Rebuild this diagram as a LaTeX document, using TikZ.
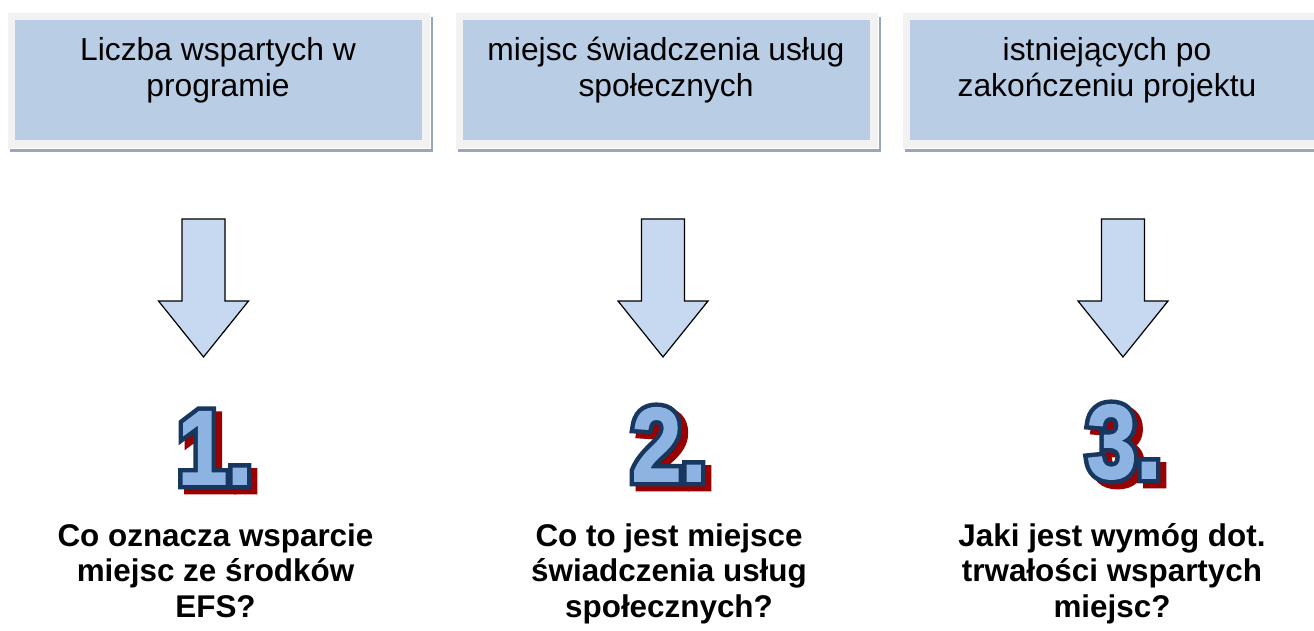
\documentclass[tikz,border=0pt]{standalone}
\usepackage{fontspec}
\setmainfont{Liberation Sans}
\newfontfamily\numfont[FakeStretch=0.85,FakeBold=1.5]{Liberation Sans}
\newfontfamily\numfontol[FakeStretch=0.85,FakeBold=10]{Liberation Sans}
\definecolor{boxframe}{HTML}{F2F2F2}
\definecolor{boxblue}{HTML}{B9CDE5}
\definecolor{boxshadow}{HTML}{98A7BB}
\definecolor{arrowfill}{HTML}{C6D9F1}
\definecolor{numfill}{HTML}{8DB3E2}
\definecolor{numblue}{HTML}{17375E}
\definecolor{numred}{HTML}{990000}
\newcommand\fancynum[1]{%
  \rlap{\kern6pt\raisebox{-5pt}{\numfontol\bfseries\textcolor{numred}{#1}}}%
  \rlap{\numfontol\bfseries\textcolor{numblue}{#1}}%
  \textcolor{numfill}{#1}}
\tikzset{
  toptext/.style={font=\fontsize{31.8}{36}\selectfont, align=center, inner sep=0pt, anchor=base},
  qtext/.style={font=\bfseries\fontsize{31.4}{35.5}\selectfont, align=center, inner sep=0pt, anchor=base},
  numstyle/.style={font=\numfont\bfseries\fontsize{105}{105}\selectfont, inner sep=0pt, anchor=base},
  blockarrow/.style={fill=arrowfill, draw=black, line width=1.2pt, line join=miter},
}
\begin{document}
\begin{tikzpicture}[x=1pt,y=-1pt]
\useasboundingbox (0,0) rectangle (1314,631);
\clip (0,0) rectangle (1314,631);
\fill[white] (0,0) rectangle (1314,631);
% header boxes
\foreach \bx in {7,455,902}{
  \fill[boxshadow] (\bx+3,17) rectangle (\bx+426,152);
  \filldraw[fill=boxframe, draw=white, line width=0.8pt] (\bx,12) rectangle (\bx+423,148);
  \fill[boxblue] (\bx+8,20) rectangle (\bx+415,140);
}
\node[toptext] (t1) at (218,97) {Liczba wspartych w\\programie};
\node[toptext] (t2) at (666,97) {miejsc świadczenia usług\\społecznych};
\node[toptext] (t3) at (1107,97) {istniejących po\\zakończeniu projektu};
% block arrows
\foreach \cx in {203.5,663,1123}{
  \draw[blockarrow] (\cx-21.5,219) -- (\cx+21.5,219) -- (\cx+21.5,301) -- (\cx+45,301)
    -- (\cx,357) -- (\cx-45,301) -- (\cx-21.5,301) -- cycle;
}
% numbers
\node[numstyle] (n1) at (215,484) {\fancynum{1.}};
\node[numstyle] (n2) at (669,481) {\fancynum{2.}};
\node[numstyle] (n3) at (1124,478) {\fancynum{3.}};
% questions
\node[qtext] (q1) at (215.5,617) {Co oznacza wsparcie\\miejsc ze środków\\EFS?};
\node[qtext] (q2) at (669,617) {Co to jest miejsce\\świadczenia usług\\społecznych?};
\node[qtext] (q3) at (1112,617) {Jaki jest wymóg dot.\\trwałości wspartych\\miejsc?};
\end{tikzpicture}
\end{document}
